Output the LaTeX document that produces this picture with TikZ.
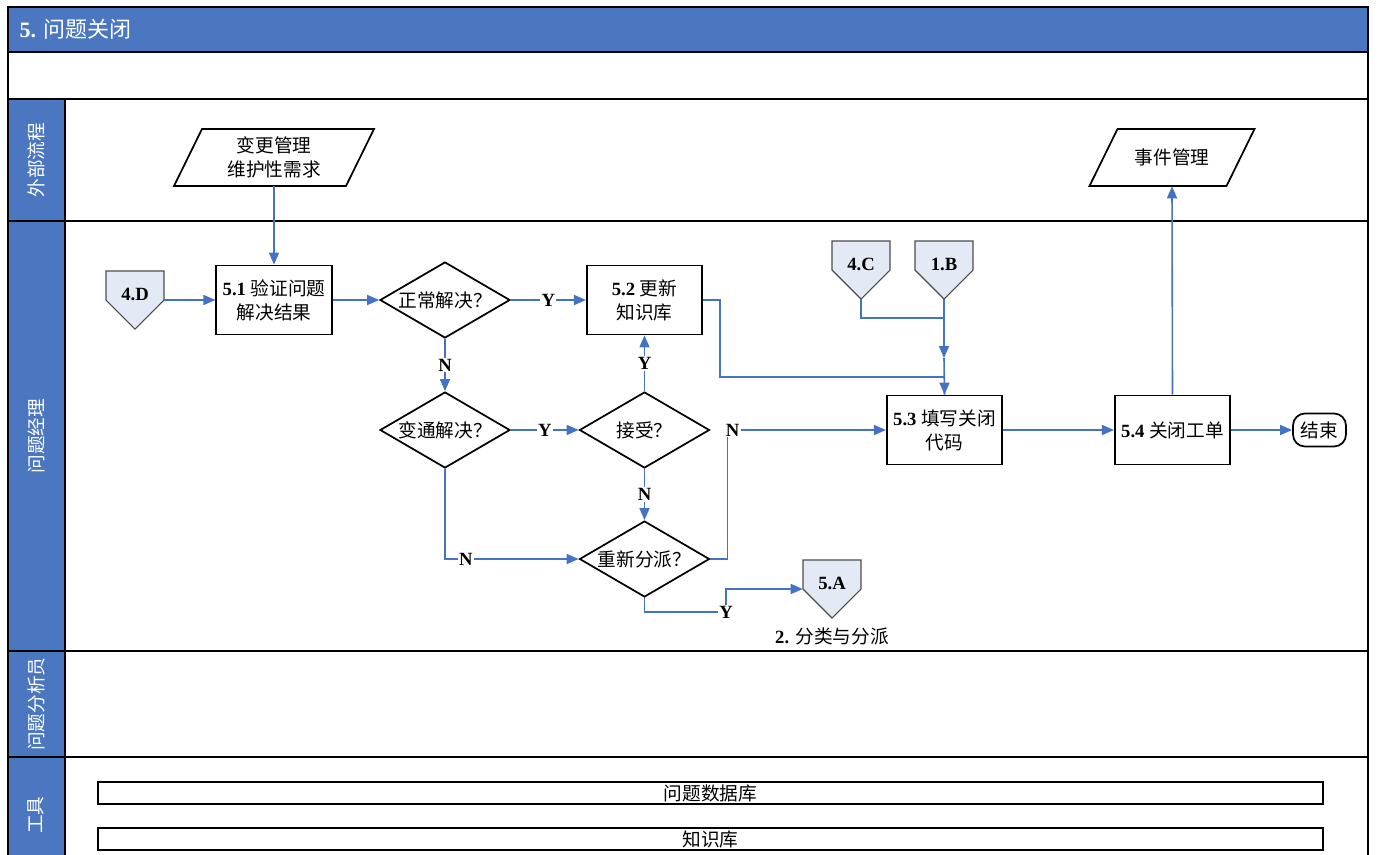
\documentclass[tikz,border=0pt]{standalone}
\usepackage{fontspec}
\setmainfont{Liberation Serif}
\newfontfamily\cjk{Noto Sans CJK SC}
\usetikzlibrary{arrows.meta,shapes.geometric}
\definecolor{hdr}{HTML}{4A77BF}
\definecolor{con}{HTML}{4472C4}
\definecolor{offfill}{HTML}{E4EAF5}
\newcommand\zh[1]{{\cjk #1}}
\newcommand\offpg[4]{%
  \draw[offbox] (#2-29,#3-29) -- (#2+29,#3-29) -- (#2+29,#3) -- (#2,#3+29) -- (#2-29,#3) -- cycle;
  \node[offtxt] (#1) at (#2,#3) {\smash{#4}};}
% name, cx, cy, half-width (px), text
\newcommand\parag[5]{%
  \draw[parabox] (#2-#4+14,#3-28.5) -- (#2+#4+14,#3-28.5) -- (#2+#4-14,#3+28.5) -- (#2-#4-14,#3+28.5) -- cycle;
  \node[paratxt] (#1) at (#2,#3) {#5};}
\begin{document}
\begin{tikzpicture}[x=0.75pt,y=-0.75pt,
  every node/.style={font=\fontsize{14}{18}\selectfont},
  frame/.style={line width=1.6pt,draw=black},
  proc/.style={draw,line width=1.3pt,fill=white,minimum width=86.5pt,minimum height=51.75pt,inner sep=0pt,align=center},
  dec/.style={draw,line width=1.3pt,fill=white,diamond,aspect=1.7,minimum width=97.5pt,minimum height=57pt,inner sep=0pt},
  offbox/.style={draw=black!70,line width=0.8pt,fill=offfill},
  offtxt/.style={minimum width=43.5pt,minimum height=43.5pt,inner sep=0pt,font=\bfseries\fontsize{14}{18}\selectfont},
  parabox/.style={draw,line width=1.3pt,fill=white},
  paratxt/.style={minimum height=42.75pt,inner sep=0pt,align=center},
  con/.style={draw=con,line width=1.2pt,-{Triangle[length=9pt,width=7.5pt]}},
  conl/.style={draw=con,line width=1.2pt},
  lbl/.style={font=\bfseries\fontsize{14}{16}\selectfont,fill=white,inner sep=1pt},
  lane/.style={rotate=90,text=white,font=\fontsize{14}{16}\selectfont},
  toolbar/.style={draw,line width=1.2pt,minimum width=918.75pt,minimum height=16.5pt,inner sep=0pt}
]
\useasboundingbox (0,0) rectangle (1379,854);
% frame and lanes
\fill[hdr] (8,7) rectangle (1368,52);
\fill[hdr] (8,99) rectangle (65,870);
\draw[frame] (8,870) -- (8,7) -- (1368,7) -- (1368,870);
\foreach \yy in {52,99,221,651,757} \draw[frame] (8,\yy) -- (1368,\yy);
\draw[frame] (65,99) -- (65,870);
\node[anchor=west,text=white,font=\fontsize{16.5}{18}\selectfont] (title) at (15,29) {\textbf{5.} \zh{问题关闭}};
\node[lane] (l1) at (36,160) {\zh{外部流程}};
\node[lane] (l2) at (36,436) {\zh{问题经理}};
\node[lane] (l3) at (36,704) {\zh{问题分析员}};
\node[lane] (l4) at (36,815) {\zh{工具}};

% external
\parag{chg}{274}{157.5}{86}{\zh{变更管理}\\\zh{维护性需求}}
\parag{evt}{1172}{157.5}{68.5}{\zh{事件管理}}

% off-page connectors
\offpg{d4}{135}{300}{4.D}
\offpg{c4}{861}{270}{4.C}
\offpg{b1}{944}{270}{1.B}
\offpg{a5}{832}{589}{5.A}
\node (a5t) at (832,636) {\textbf{2.} \zh{分类与分派}};

% process boxes
\node[proc] (p51) at (274,300) {\textbf{5.1} \zh{验证问题}\\\zh{解决结果}};
\node[proc] (p52) at (644.5,300) {\textbf{5.2} \zh{更新}\\\zh{知识库}};
\node[proc] (p53) at (944.5,430) {\textbf{5.3} \zh{填写关闭}\\\zh{代码}};
\node[proc] (p54) at (1172.5,430) {\textbf{5.4} \zh{关闭工单}};
\node[draw,line width=1.3pt,rounded corners=9pt,minimum width=39.75pt,minimum height=24.75pt,inner sep=0pt] (end) at (1319.5,430) {\zh{结束}};

% decisions
\node[dec] (d1) at (445,300) {\zh{正常解决？}};
\node[dec] (d2) at (445,430) {\zh{变通解决？}};
\node[dec] (d3) at (644.5,430) {\zh{接受？}};
\node[dec] (d4r) at (644.5,559) {\zh{重新分派？}};

% tools
\node[toolbar] (t1) at (710.5,793) {\zh{问题数据库}};
\node[toolbar] (t2) at (710.5,839) {\zh{知识库}};

% connectors
\coordinate (j1) at (944,318);
\coordinate (j2) at (944,358);
\draw[con] (chg.south) -- (p51.north);
\draw[con] (d4.east) -- (p51.west);
\draw[con] (p51.east) -- (d1.west);
\draw[con] (d1.east) -- node[lbl]{Y} (p52.west);
\draw[con] (d1.south) -- node[lbl]{N} (d2.north);
\draw[con] (d2.east) -- node[lbl]{Y} (d3.west);
\draw[con] (d3.north) -- node[lbl]{Y} (p52.south);
\draw[con] (d3.south) -- node[lbl]{N} (d4r.north);
\draw[con] (d2.south) |- node[lbl,pos=0.578]{N} (d4r.west);
\draw[con] (d4r.east) -- ++(17,0) |- node[lbl,pos=0.5,xshift=4pt]{N} (p53.west);
\draw[con] (d4r.south) |- node[lbl,pos=1]{Y} (726,612) |- (a5.west);
\draw[con] (p52.east) -- ++(17,0) -- ++(0,77) -| (p53.north);
\draw[conl] (c4.south) |- (j1);
\draw[con] (b1.south) -- (j2);
\draw[conl] (j2) -- (p53.north);
\draw[con] (p53.east) -- (p54.west);
\draw[con] (p54.north) -- (evt.south);
\draw[con] (p54.east) -- (end.west);
\end{tikzpicture}
\end{document}
